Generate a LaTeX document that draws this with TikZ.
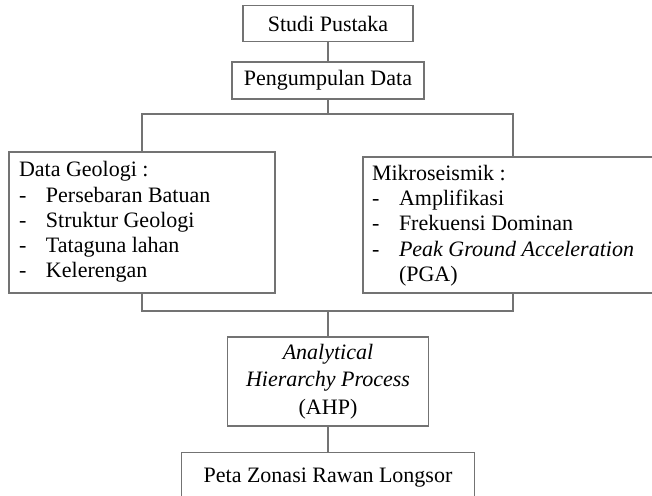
\documentclass[tikz,border=0pt]{standalone}
\usepackage{fontspec}
\setmainfont{Liberation Serif}
\usetikzlibrary{positioning}
\tikzset{
    mybox/.style = {rectangle, draw=black!55, line width=1.1pt, inner sep=0pt, align=center, text=black, font=\fontsize{22}{25.3}\selectfont},
    mylist/.style = {mybox, align=left, inner xsep=10pt, inner ysep=7pt},
    edgen/.style = {draw=black!55, line width=1.1pt}
}
\newcommand{\pitem}[1]{\makebox[27pt][l]{-}#1}

\begin{document}
\begin{tikzpicture}[x=1pt, y=-1pt]
\useasboundingbox (0, 0) rectangle (652, 495);
%
\node[mybox, minimum width=170, minimum height=36.5] at (328, 23.5) (studi) {Studi Pustaka};
\node[mybox, minimum width=192, minimum height=37] at (328, 80.5) (kumpul) {Pengumpulan Data};
\node[mylist] at (142, 222.5) (geo) {\parbox[c][127pt][t]{246pt}{\strut Data Geologi :\\
    \pitem{Persebaran Batuan}\\ \pitem{Struktur Geologi}\\ \pitem{Tataguna lahan}\\ \pitem{Kelerengan}}};
\node[mylist, inner xsep=9pt, inner ysep=5.5pt] at (513, 225) (mikro) {\parbox[c][125pt][t]{282pt}{\strut Mikroseismik :\\
    \pitem{Amplifikasi}\\ \pitem{Frekuensi Dominan}\\ \pitem{\textit{Peak Ground Acceleration}}\\ \hspace*{27pt}(PGA)}};
\node[mybox, minimum width=201, minimum height=89, font=\fontsize{22}{27.5}\selectfont] at (328, 381.5) (ahp) {\textit{Analytical}\\ \textit{Hierarchy Process}\\ (AHP)};
\node[mybox, minimum width=293, minimum height=50] at (328, 477.5) (peta) {Peta Zonasi Rawan Longsor};
%
\coordinate (split) at (328, 114);
\coordinate (merge) at (328, 311);
%
\draw[edgen] (studi) -- (kumpul);
\draw[edgen] (kumpul) -- (split);
\draw[edgen] (geo.north) |- (split) -| (mikro.north);
\draw[edgen] (geo.south) |- (merge) -| (mikro.south);
\draw[edgen] (merge) -- (ahp);
\draw[edgen] (ahp) -- (peta);

\end{tikzpicture}
\end{document}
